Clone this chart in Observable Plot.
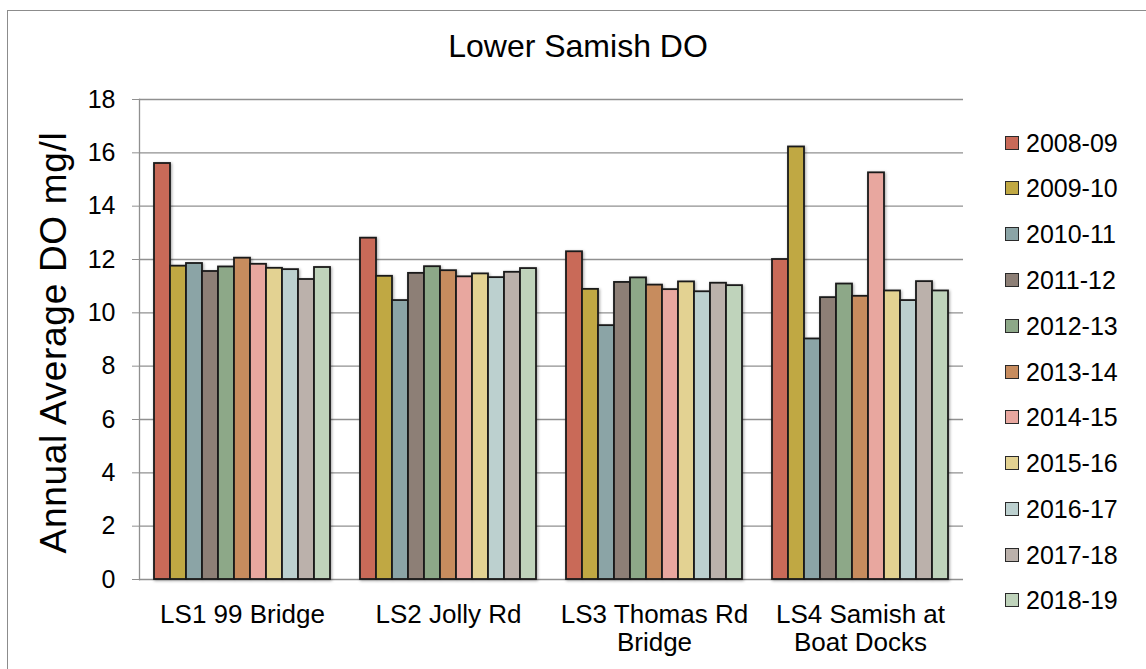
<!DOCTYPE html>
<html>
<head>
<meta charset="utf-8">
<script src="https://cdn.jsdelivr.net/npm/d3@7"></script>
<script src="https://cdn.jsdelivr.net/npm/@observablehq/plot@0.6"></script>
<style>
  html, body { margin: 0; padding: 0; background: #fff; }
  body { width: 1146px; height: 669px; overflow: hidden; font-family: "Liberation Sans", Arial, sans-serif; }
  #wrap { position: relative; width: 1146px; height: 669px; }
  #border { position: absolute; left: 7px; top: 10px; width: 1200px; height: 700px; border: 1.5px solid #8c8c8c; box-sizing: border-box; }
  #title { position: absolute; left: 0; width: 1156px; top: 28px; text-align: center; font-size: 32px; color: #000; }
  #chart { position: absolute; left: 0; top: 0; }
  .leg { position: absolute; left: 1005px; height: 26px; display: flex; align-items: center; font-size: 25px; color: #000; }
  .sw { width: 12px; height: 12px; border: 1.6px solid #2a2a2a; margin-right: 7px; }
  .ylab text { letter-spacing: 0.7px; }
</style>
</head>
<body>
<div id="wrap">
  <div id="border"></div>
  <div id="chart"></div>
  <div id="title">Lower Samish DO</div>
</div>
<script>
const sites = ["LS1 99 Bridge", "LS2 Jolly Rd", "LS3 Thomas Rd Bridge", "LS4 Samish at Boat Docks"];
const siteLabels = ["LS1 99 Bridge", "LS2 Jolly Rd", "LS3 Thomas Rd\nBridge", "LS4 Samish at\nBoat Docks"];
const years = ["2008-09", "2009-10", "2010-11", "2011-12", "2012-13", "2013-14", "2014-15", "2015-16", "2016-17", "2017-18", "2018-19"];
const ls1 = [15.6, 11.75, 11.85, 11.55, 11.72, 12.05, 11.82, 11.67, 11.62, 11.25, 11.70];
const ls2 = [12.8, 11.37, 10.46, 11.48, 11.73, 11.58, 11.35, 11.46, 11.32, 11.52, 11.66];
const ls3 = [12.29, 10.88, 9.52, 11.14, 11.31, 11.04, 10.87, 11.16, 10.79, 11.11, 11.02];
const ls4 = [12.0, 16.22, 9.02, 10.57, 11.08, 10.62, 15.25, 10.82, 10.46, 11.17, 10.82];
const colors = ["#C96A58", "#C0A843", "#8BA4A6", "#8D7F76", "#8DA888", "#C78C5E", "#E8A79F", "#E3D292", "#BCD0CF", "#BBB1AB", "#BFD3BB"];
const yTicks = [0, 2, 4, 6, 8, 10, 12, 14, 16, 18];

const series = [ls1, ls2, ls3, ls4];
const rows = sites.flatMap((s, i) => years.map((y, j) => ({site: s, year: y, value: series[i][j]})));

const chart = Plot.plot({
  width: 1146,
  height: 669,
  marginTop: 99,
  marginBottom: 90,
  marginLeft: 137,
  marginRight: 182,
  style: {fontFamily: "Liberation Sans, Arial, sans-serif", background: "transparent", color: "#000"},
  fx: {domain: sites, paddingInner: 0, paddingOuter: 0, label: null},
  x: {domain: years, paddingInner: 0, paddingOuter: 0.714, axis: null},
  y: {domain: [0, 18], label: null},
  color: {domain: years, range: colors},
  marks: [
    Plot.ruleY(yTicks, {stroke: "#909090", strokeWidth: 1.3}),
    Plot.frame({anchor: "left", stroke: "#909090", strokeWidth: 1.3, facetAnchor: "left"}),
    Plot.barY(rows, {fx: "site", x: "year", y: "value", fill: "year", stroke: "#1a1a1a", strokeWidth: 1.8,
      imageFilter: "drop-shadow(1.5px 1.5px 1.5px rgba(0,0,0,0.35))"}),
    Plot.axisY({ticks: yTicks, tickSize: 7, tickPadding: 17, fontSize: 25, stroke: "#909090", fill: "#000", label: null, facetAnchor: "left"}),
    Plot.axisFx({anchor: "bottom", tickSize: 0, tickPadding: 23, fontSize: 26, lineHeight: 1.1, label: null,
      tickFormat: d => siteLabels[sites.indexOf(d)]}),
    Plot.text(["Annual Average DO mg/l"], {frameAnchor: "left", textAnchor: "middle", rotate: -90, dx: -85, dy: 3, fontSize: 37, fill: "#000", facetAnchor: "left", className: "ylab"})
  ]
});
document.getElementById("chart").appendChild(chart);

const wrap = document.getElementById("wrap");
const legTops = [143, 188, 234, 280, 326, 372, 417, 463, 509, 555, 600];
years.forEach((y, i) => {
  const d = document.createElement("div");
  d.className = "leg";
  d.style.top = (legTops[i] - 13) + "px";
  const sw = document.createElement("div");
  sw.className = "sw";
  sw.style.background = colors[i];
  d.appendChild(sw);
  d.appendChild(document.createTextNode(y));
  wrap.appendChild(d);
});
</script>
</body>
</html>
